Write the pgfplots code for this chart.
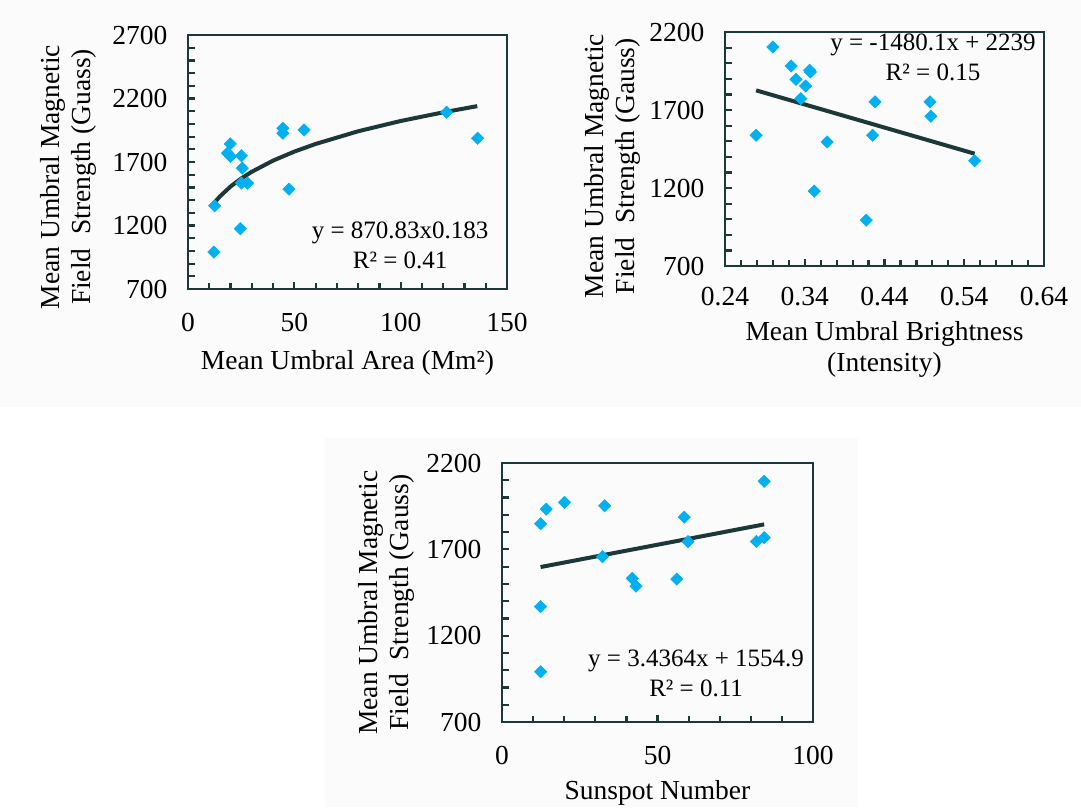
\documentclass[border=0pt]{standalone}
\usepackage{fontspec}
\setmainfont{Liberation Serif}
\usepackage{pgfplots}
\pgfplotsset{compat=1.18}
\definecolor{ax}{RGB}{28,56,56}
\definecolor{pt}{RGB}{0,176,240}
\definecolor{bg}{RGB}{251,251,251}
\newcommand\myfs{\fontsize{27.5}{31}\selectfont}
\newcommand\eqfs{\fontsize{25}{30}\selectfont}
\pgfplotsset{
 mystyle/.style={
  scale only axis,
  anchor=south west,
  axis line style={ax, line width=2.8pt},
  tick align=inside,
  xtick pos=bottom, ytick pos=left,
  every tick/.style={ax, line width=2.2pt},
  major tick length=7pt, minor tick length=6.5pt,
  minor x tick num=4, minor y tick num=4,
  xticklabel style={font=\myfs, yshift=-21pt},
  yticklabel style={font=\myfs, xshift=-17pt},
  label style={font=\myfs, align=center},
  /pgf/number format/assume math mode=true,
  /pgf/number format/1000 sep={},
  clip=false,
 },
 pts/.style={only marks, mark=square*, mark size=4.4pt, mark options={rotate=45, fill=pt, draw=none}, color=pt},
 fit/.style={no marks, ax, line width=4pt},
}
\begin{document}
\begin{tikzpicture}
\useasboundingbox (0,0) rectangle (1081pt,-807pt);
\fill[bg] (0,0) rectangle (1081pt,-407pt);
\fill[bg] (325pt,-438pt) rectangle (858pt,-807pt);

% Panel 1
\begin{axis}[mystyle, at={(188pt,-289pt)}, width=319pt, height=254pt,
  xmin=0, xmax=150, ymin=700, ymax=2700,
  xtick={0,50,100,150}, ytick={700,1200,...,2700},
  xlabel={Mean Umbral Area (Mm²)},
  ylabel={Mean Umbral Magnetic\\Field\ \ Strength (Guass)},
  xlabel style={at={(axis description cs:0.5,-0.291)}, anchor=center},
  ylabel style={at={(axis description cs:-0.376,0.441)}, anchor=center}]
\addplot[pts] coordinates {
 (12.2,991) (12.5,1355) (18.6,1770) (19.9,1843) (20.0,1745) (25.1,1750)
 (25.5,1652) (25.1,1534) (28.0,1534) (24.6,1175) (44.6,1966) (44.6,1927)
 (47.5,1486) (54.6,1953) (121.6,2092) (136.2,1887)};
\addplot[fit] coordinates {
 (12,1372) (15,1429) (20,1507) (25,1570) (30,1623) (40,1711) (50,1782)
 (60,1842) (80,1942) (100,2023) (120,2091) (136,2140)};
\node[font=\eqfs, align=center] at (axis description cs:0.665,0.173) {y = 870.83x0.183\\R² = 0.41};
\end{axis}

% Panel 2
\begin{axis}[mystyle, at={(725pt,-266pt)}, width=319pt, height=234pt,
  xmin=0.24, xmax=0.64, ymin=700, ymax=2200,
  xtick={0.24,0.34,0.44,0.54,0.64}, xticklabels={0.24,0.34,0.44,0.54,0.64},
  xticklabel style={yshift=3pt},
  ytick={700,1200,1700,2200},
  xlabel={Mean Umbral Brightness\\(Intensity)},
  ylabel={Mean Umbral Magnetic\\Field\ \ Strength (Gauss)},
  xlabel style={at={(axis description cs:0.5,-0.355)}, anchor=center},
  ylabel style={at={(axis description cs:-0.354,0.427)}, anchor=center}]
\addplot[pts] coordinates {
 (0.300,2104) (0.323,1982) (0.329,1897) (0.341,1854) (0.335,1773)
 (0.346,1955) (0.347,1944) (0.279,1538) (0.368,1495) (0.352,1180)
 (0.417,994) (0.428,1752) (0.425,1538) (0.497,1752) (0.498,1660) (0.553,1374)};
\addplot[fit] coordinates {(0.279,1826) (0.553,1420)};
\node[font=\eqfs, align=center] at (axis description cs:0.652,0.891) {y = -1480.1x + 2239\\R² = 0.15};
\end{axis}

% Panel 3
\begin{axis}[mystyle, at={(502pt,-722pt)}, width=311pt, height=259pt,
  xmin=0, xmax=100, ymin=700, ymax=2200,
  xtick={0,50,100}, ytick={700,1200,1700,2200},
  xlabel={Sunspot Number},
  ylabel={Mean Umbral Magnetic\\Field\ \ Strength (Gauss)},
  xlabel style={at={(axis description cs:0.5,-0.274)}, anchor=center},
  ylabel style={at={(axis description cs:-0.373,0.461)}, anchor=center}]
\addplot[pts] coordinates {
 (12.4,1848) (14.2,1933) (20.1,1972) (33.0,1952) (58.6,1886) (84.3,2094)
 (32.3,1658) (59.8,1745) (81.8,1745) (84.3,1768) (41.9,1532) (43.1,1487)
 (56.2,1528) (12.4,1368) (12.4,991)};
\addplot[fit] coordinates {(12.4,1597.5) (84.3,1844.6)};
\node[font=\eqfs, align=center] at (axis description cs:0.624,0.189) {y = 3.4364x + 1554.9\\R² = 0.11};
\end{axis}
\end{tikzpicture}
\end{document}
